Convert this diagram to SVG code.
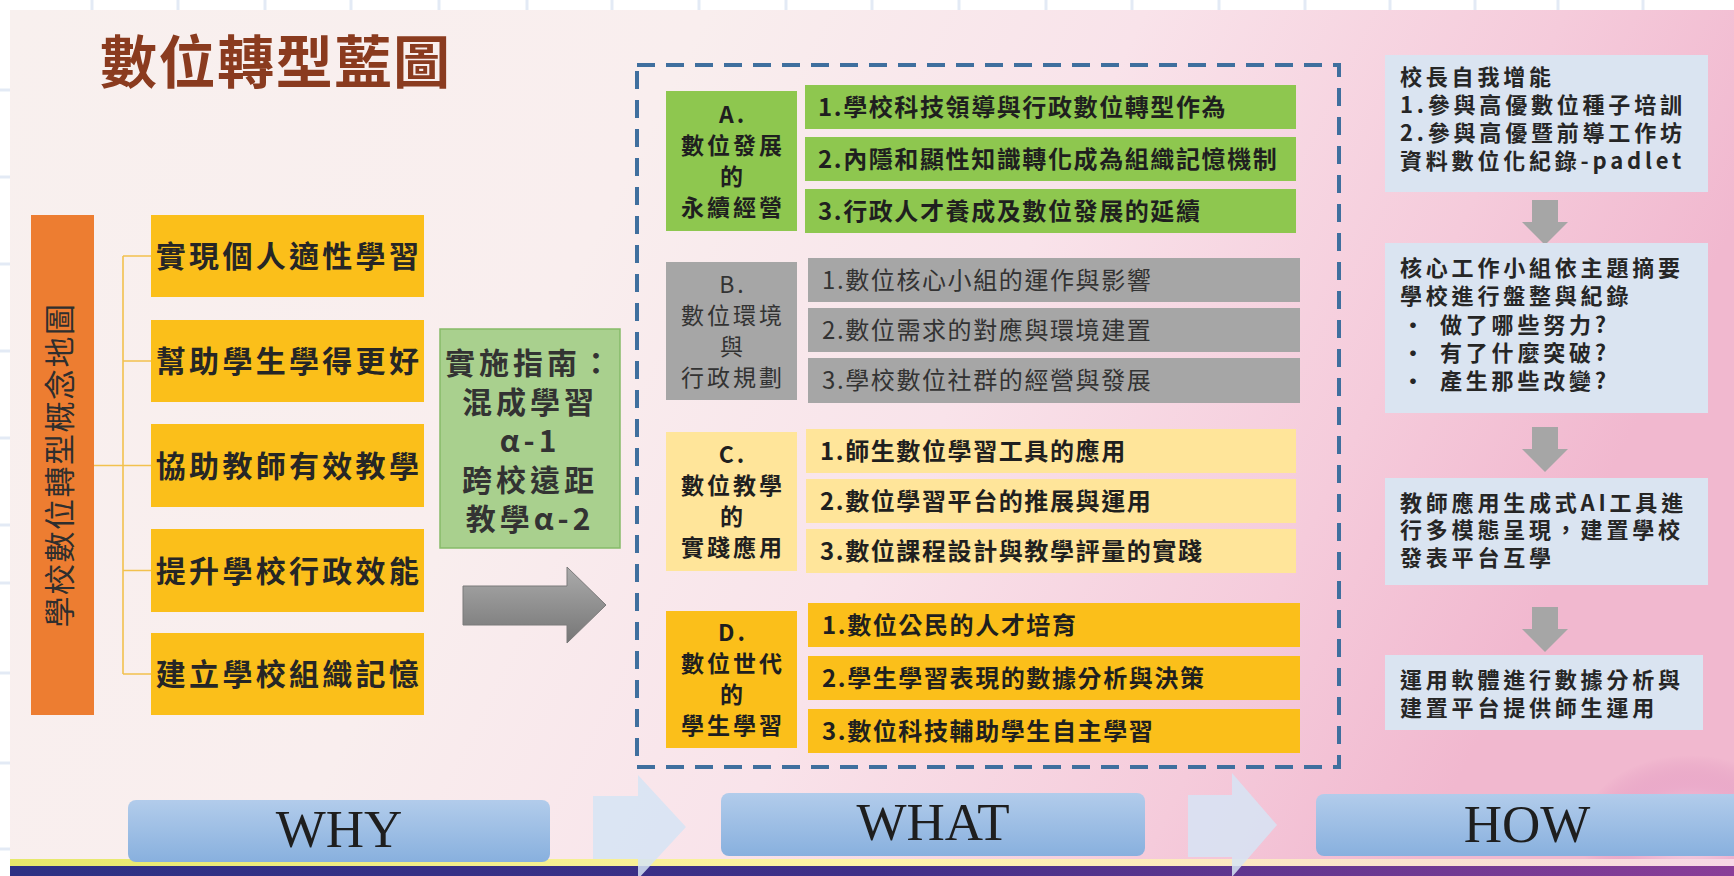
<svg xmlns="http://www.w3.org/2000/svg" width="1734" height="876" viewBox="0 0 1734 876">
<defs>
<linearGradient id="bg" x1="0" y1="0" x2="1" y2="0.25">
<stop offset="0" stop-color="#f8f0ee"/>
<stop offset="0.38" stop-color="#f9eeee"/>
<stop offset="0.62" stop-color="#f9e3ea"/>
<stop offset="0.85" stop-color="#f5cbdb"/>
<stop offset="1" stop-color="#f1b8cf"/>
</linearGradient>
<linearGradient id="band" x1="0" y1="0" x2="1" y2="0">
<stop offset="0" stop-color="#2c3184"/>
<stop offset="0.5" stop-color="#3f2f88"/>
<stop offset="1" stop-color="#8a3e98"/>
</linearGradient>
<linearGradient id="glow" x1="0" y1="0" x2="1" y2="0">
<stop offset="0" stop-color="#e6e86a"/>
<stop offset="0.5" stop-color="#fff4a8"/>
<stop offset="1" stop-color="#f7d7e6"/>
</linearGradient>
<linearGradient id="bar" x1="0" y1="0" x2="0" y2="1">
<stop offset="0" stop-color="#b2cceb"/>
<stop offset="1" stop-color="#88b0de"/>
</linearGradient>
<linearGradient id="garrow" x1="0" y1="0" x2="0" y2="1">
<stop offset="0" stop-color="#ababab"/>
<stop offset="1" stop-color="#767676"/>
</linearGradient>
<radialGradient id="bubble" cx="0.5" cy="0.5" r="0.5">
<stop offset="0" stop-color="#f9e6f0" stop-opacity="0.9"/>
<stop offset="0.6" stop-color="#e7a3c8" stop-opacity="0.6"/>
<stop offset="1" stop-color="#d47fb3" stop-opacity="0"/>
</radialGradient>
</defs>
<style>
.cjk{font-family:"Noto Sans CJK TC","Noto Sans CJK SC",sans-serif;}
.why{font-family:"Noto Sans CJK TC",sans-serif;font-size:30px;font-weight:700;fill:#262626;letter-spacing:3.3px;text-anchor:middle;}
.lbl{font-family:"Noto Sans CJK TC",sans-serif;font-size:23px;font-weight:700;fill:#1f1f1f;letter-spacing:3px;text-anchor:middle;}
.item{font-family:"Noto Sans CJK TC",sans-serif;font-size:24px;font-weight:700;fill:#1f1f1f;letter-spacing:1.6px;}
.itemb{font-family:"Noto Sans CJK TC",sans-serif;font-size:24px;font-weight:400;fill:#333;letter-spacing:1.6px;}
.lblb{font-family:"Noto Sans CJK TC",sans-serif;font-size:23px;font-weight:400;fill:#333;letter-spacing:3px;text-anchor:middle;}
.how{font-family:"Noto Sans CJK TC",sans-serif;font-size:22px;font-weight:700;fill:#262626;letter-spacing:3.8px;}
.bart{font-family:"Liberation Serif","Times New Roman",serif;font-size:53px;fill:#1e1e1e;text-anchor:middle;}
.grid{stroke:#e3eaf5;stroke-width:3;}
.conn{stroke:#f2c14e;stroke-width:1.6;fill:none;}
.harrow{fill:#a6a6a6;}
.chev{fill:#d6e4f4;opacity:0.85;}
</style>

<!-- page background and grid -->
<rect x="0" y="0" width="1734" height="876" fill="#ffffff"/>
<g class="grid">
<line x1="92" y1="0" x2="92" y2="10"/><line x1="178" y1="0" x2="178" y2="10"/><line x1="265" y1="0" x2="265" y2="10"/><line x1="351" y1="0" x2="351" y2="10"/><line x1="439" y1="0" x2="439" y2="10"/><line x1="527" y1="0" x2="527" y2="10"/><line x1="612" y1="0" x2="612" y2="10"/><line x1="699" y1="0" x2="699" y2="10"/><line x1="786" y1="0" x2="786" y2="10"/><line x1="872" y1="0" x2="872" y2="10"/><line x1="959" y1="0" x2="959" y2="10"/><line x1="1046" y1="0" x2="1046" y2="10"/><line x1="1132" y1="0" x2="1132" y2="10"/><line x1="1219" y1="0" x2="1219" y2="10"/><line x1="1305" y1="0" x2="1305" y2="10"/><line x1="1390" y1="0" x2="1390" y2="10"/><line x1="1475" y1="0" x2="1475" y2="10"/><line x1="1558" y1="0" x2="1558" y2="10"/><line x1="1643" y1="0" x2="1643" y2="10"/>
<line x1="0" y1="90" x2="10" y2="90"/><line x1="0" y1="177" x2="10" y2="177"/><line x1="0" y1="264" x2="10" y2="264"/><line x1="0" y1="351" x2="10" y2="351"/><line x1="0" y1="438" x2="10" y2="438"/><line x1="0" y1="525" x2="10" y2="525"/><line x1="0" y1="583" x2="10" y2="583"/><line x1="0" y1="673" x2="10" y2="673"/><line x1="0" y1="763" x2="10" y2="763"/><line x1="0" y1="849" x2="10" y2="849"/>
</g>
<rect x="10" y="10" width="1724" height="866" fill="url(#bg)"/>
<ellipse cx="1690" cy="835" rx="110" ry="80" fill="url(#bubble)"/>
<rect x="10" y="859" width="1724" height="7" fill="url(#glow)"/>
<rect x="10" y="866" width="1724" height="10" fill="url(#band)"/>

<!-- title -->
<g id="title">
<text x="100" y="83" class="cjk" font-size="57" font-weight="700" fill="#8a3b1f" letter-spacing="1.6">數位轉型藍圖</text>
</g>

<!-- connectors -->
<g id="connectors">
<path class="conn" d="M123 256 V674 M123 256 H151 M123 361 H151 M94 465.5 H151 M123 570.5 H151 M123 674 H151"/>
<path id="big-arrow" d="M463 586 H567 V567 L606 605 L567 643 V625 H463 Z" fill="url(#garrow)" stroke="#7a7a7a" stroke-width="1"/>
<path class="harrow" d="M1532 200 H1558 V222 H1568 L1545 245 L1522 222 H1532 Z"/>
<path class="harrow" d="M1532 427 H1558 V449 H1568 L1545 472 L1522 449 H1532 Z"/>
<path class="harrow" d="M1532 607 H1558 V629 H1568 L1545 652 L1522 629 H1532 Z"/>
<path class="chev" d="M593 796 H638 V775 L686 827 L638 879 V859 H593 Z"/>
<path class="chev" d="M1188 795 H1232 V773 L1277 825 L1232 877 V857 H1188 Z"/>
</g>

<!-- WHY column -->
<g id="concept-map">
<rect x="31" y="215" width="63" height="500" fill="#ed7d31"/>
<text transform="translate(71,465) rotate(-90)" class="cjk" font-size="31" fill="#2e2e2e" letter-spacing="1.5" text-anchor="middle">學校數位轉型概念地圖</text>
</g>
<g id="why-1"><rect x="151" y="215" width="273" height="82" fill="#fbbf1a"/><text x="289" y="267" class="why">實現個人適性學習</text></g>
<g id="why-2"><rect x="151" y="320" width="273" height="82" fill="#fbbf1a"/><text x="289" y="372" class="why">幫助學生學得更好</text></g>
<g id="why-3"><rect x="151" y="424" width="273" height="83" fill="#fbbf1a"/><text x="289" y="476.5" class="why">協助教師有效教學</text></g>
<g id="why-4"><rect x="151" y="529" width="273" height="83" fill="#fbbf1a"/><text x="289" y="581.5" class="why">提升學校行政效能</text></g>
<g id="why-5"><rect x="151" y="633" width="273" height="82" fill="#fbbf1a"/><text x="289" y="685" class="why">建立學校組織記憶</text></g>

<g id="guide">
<rect x="440" y="329" width="180" height="219" fill="#a9d08e" stroke="#86bb68" stroke-width="1.5"/>
<g class="cjk" font-size="30" font-weight="700" fill="#333" letter-spacing="4" text-anchor="middle">
<text x="530" y="374">實施指南：</text>
<text x="530" y="413">混成學習</text>
<text x="530" y="452">α-1</text>
<text x="530" y="491">跨校遠距</text>
<text x="530" y="530">教學α-2</text>
</g>
</g>

<!-- WHAT dashed frame -->
<g id="what-frame">
<rect x="637" y="65" width="702" height="702" fill="none" stroke="#3f6f9e" stroke-width="4" stroke-dasharray="18 11"/>
</g>

<g id="group-a">
<rect x="666" y="91" width="131" height="140" fill="#8ec74f"/>
<text x="733" y="123" class="lbl">A.</text><text x="733" y="154" class="lbl">數位發展</text><text x="733" y="185" class="lbl">的</text><text x="733" y="216" class="lbl">永續經營</text>
<rect x="805" y="85" width="491" height="44" fill="#8ec74f"/>
<rect x="805" y="137" width="491" height="44" fill="#8ec74f"/>
<rect x="805" y="189" width="491" height="44" fill="#8ec74f"/>
<text x="818" y="115.6" class="item">1.學校科技領導與行政數位轉型作為</text>
<text x="818" y="167.6" class="item">2.內隱和顯性知識轉化成為組織記憶機制</text>
<text x="818" y="219.6" class="item">3.行政人才養成及數位發展的延續</text>
</g>

<g id="group-b">
<rect x="666" y="262" width="131" height="138" fill="#a6a6a6"/>
<text x="733" y="293" class="lblb">B.</text><text x="733" y="324" class="lblb">數位環境</text><text x="733" y="355" class="lblb">與</text><text x="733" y="386" class="lblb">行政規劃</text>
<rect x="808" y="258" width="492" height="44" fill="#a6a6a6"/>
<rect x="808" y="308" width="492" height="44" fill="#a6a6a6"/>
<rect x="808" y="358" width="492" height="45" fill="#a6a6a6"/>
<text x="822" y="288.6" class="itemb">1.數位核心小組的運作與影響</text>
<text x="822" y="338.6" class="itemb">2.數位需求的對應與環境建置</text>
<text x="822" y="388.6" class="itemb">3.學校數位社群的經營與發展</text>
</g>

<g id="group-c">
<rect x="666" y="432" width="131" height="139" fill="#ffe59a"/>
<text x="733" y="463" class="lbl">C.</text><text x="733" y="494" class="lbl">數位教學</text><text x="733" y="525" class="lbl">的</text><text x="733" y="556" class="lbl">實踐應用</text>
<rect x="806" y="429" width="490" height="44" fill="#ffe59a"/>
<rect x="806" y="479" width="490" height="44" fill="#ffe59a"/>
<rect x="806" y="529" width="490" height="44" fill="#ffe59a"/>
<text x="820" y="459.6" class="item">1.師生數位學習工具的應用</text>
<text x="820" y="509.6" class="item">2.數位學習平台的推展與運用</text>
<text x="820" y="559.6" class="item">3.數位課程設計與教學評量的實踐</text>
</g>

<g id="group-d">
<rect x="666" y="611" width="131" height="137" fill="#fbbf1a"/>
<text x="733" y="641" class="lbl">D.</text><text x="733" y="672" class="lbl">數位世代</text><text x="733" y="703" class="lbl">的</text><text x="733" y="734" class="lbl">學生學習</text>
<rect x="808" y="603" width="492" height="44" fill="#fbbf1a"/>
<rect x="808" y="656" width="492" height="44" fill="#fbbf1a"/>
<rect x="808" y="709" width="492" height="44" fill="#fbbf1a"/>
<text x="822" y="633.6" class="item">1.數位公民的人才培育</text>
<text x="822" y="686.6" class="item">2.學生學習表現的數據分析與決策</text>
<text x="822" y="739.6" class="item">3.數位科技輔助學生自主學習</text>
</g>

<!-- HOW column -->
<g id="how-1">
<rect x="1385" y="55" width="323" height="137" fill="#dae4f1"/>
<text x="1400" y="85" class="how">校長自我增能</text>
<text x="1400" y="113" class="how">1.參與高優數位種子培訓</text>
<text x="1400" y="141" class="how">2.參與高優暨前導工作坊</text>
<text x="1400" y="169" class="how">資料數位化紀錄-padlet</text>
</g>
<g id="how-2">
<rect x="1385" y="243" width="323" height="170" fill="#dae4f1"/>
<text x="1400" y="276" class="how">核心工作小組依主題摘要</text>
<text x="1400" y="304" class="how">學校進行盤整與紀錄</text>
<text x="1402" y="333" class="how">•</text><text x="1440" y="333" class="how">做了哪些努力?</text>
<text x="1402" y="361" class="how">•</text><text x="1440" y="361" class="how">有了什麼突破?</text>
<text x="1402" y="389" class="how">•</text><text x="1440" y="389" class="how">產生那些改變?</text>
</g>
<g id="how-3">
<rect x="1385" y="478" width="323" height="107" fill="#dae4f1"/>
<text x="1400" y="511" class="how">教師應用生成式AI工具進</text>
<text x="1400" y="538" class="how">行多模態呈現，建置學校</text>
<text x="1400" y="566" class="how">發表平台互學</text>
</g>
<g id="how-4">
<rect x="1385" y="655" width="318" height="75" fill="#dae4f1"/>
<text x="1400" y="688" class="how">運用軟體進行數據分析與</text>
<text x="1400" y="716" class="how">建置平台提供師生運用</text>
</g>

<!-- bottom bars -->
<g id="why-bar"><rect x="128" y="800" width="422" height="62" rx="8" fill="url(#bar)"/><text x="339" y="847" class="bart">WHY</text></g>
<g id="what-bar"><rect x="721" y="793" width="424" height="63" rx="8" fill="url(#bar)"/><text x="933" y="840" class="bart">WHAT</text></g>
<g id="how-bar"><rect x="1316" y="794" width="430" height="62" rx="8" fill="url(#bar)"/><text x="1527" y="842" class="bart">HOW</text></g>
</svg>
